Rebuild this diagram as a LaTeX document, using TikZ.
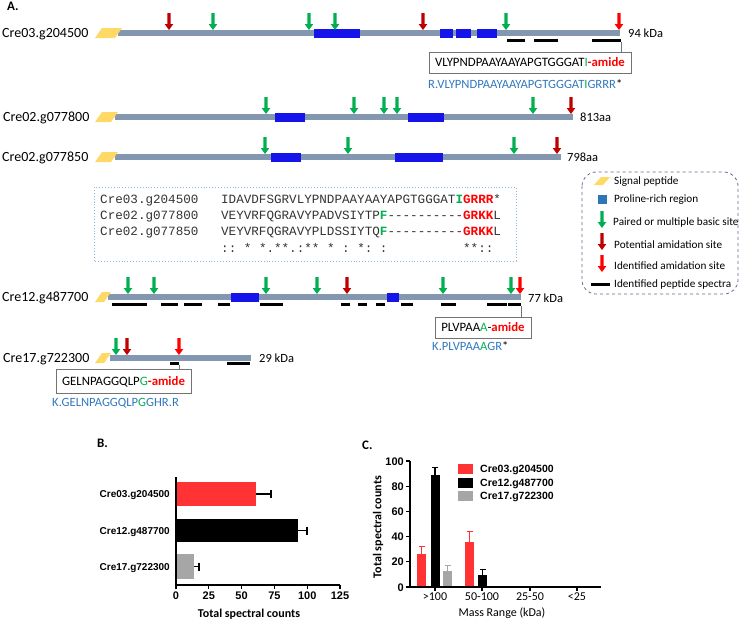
\documentclass[tikz,border=0pt]{standalone}
\usepackage{fontspec}
\setmainfont{Carlito}
\setmonofont{Liberation Mono}
\newfontfamily\arialf{Liberation Sans}
\definecolor{barG}{RGB}{132,151,176}
\definecolor{protB}{RGB}{20,20,235}
\definecolor{sigY}{RGB}{255,217,102}
\definecolor{aG}{RGB}{0,176,80}
\definecolor{aD}{RGB}{192,0,0}
\definecolor{aR}{RGB}{255,0,0}
\definecolor{pepB}{RGB}{50,120,190}
\definecolor{aliB}{RGB}{140,185,225}
\definecolor{legB}{RGB}{90,110,140}
\definecolor{legP}{RGB}{46,117,182}
\definecolor{cRed}{RGB}{255,51,51}
\definecolor{cGray}{RGB}{166,166,166}
\newcommand{\pa}[3]{\fill[#3] ({#1-1.6},{#2-17}) -- ({#1+1.6},{#2-17}) -- ({#1+1.6},{#2-6}) -- ({#1+4.3},{#2-6}) -- (#1,#2) -- ({#1-4.3},{#2-6}) -- ({#1-1.6},{#2-6}) -- cycle;}
\newcommand{\sigp}[4]{\fill[sigY] (#1,{#2+#4}) -- ({#1+#3-7},{#2+#4}) -- ({#1+#3},{#2-#4}) -- ({#1+7},{#2-#4}) -- cycle;}
\newcommand{\pbox}[4]{\fill[protB] (#1,{#3-#4}) rectangle (#2,{#3+#4});}
\newcommand{\spec}[3]{\draw[line width=3pt] (#1,#3) -- (#2,#3);}
\newcommand{\tendsh}{{-}{-}{-}{-}{-}{-}{-}{-}{-}{-}}
\begin{document}
\begin{tikzpicture}[x=1pt,y=-1pt,
  lab/.style={inner sep=0pt, anchor=west, text depth=0pt, font=\fontsize{14}{16}\selectfont, text height=9pt},
  kda/.style={lab, font=\fontsize{12.5}{14}\selectfont, text height=8pt},
  pepbox/.style={draw=black!55, line width=0.8pt, inner sep=0pt, text depth=0pt, text height=8.2pt, font=\fontsize{12.8}{14}\selectfont},
  ptxt/.style={lab, font=\fontsize{12.6}{14}\selectfont, text height=8.1pt, text=pepB},
  ali/.style={lab, font=\fontsize{12.6}{14}\selectfont\ttfamily, text height=8.3pt, text=black!80},
  leg/.style={lab, font=\fontsize{11.2}{13}\selectfont, text height=7.3pt},
  axl/.style={inner sep=0pt, text depth=0pt, font=\arialf\bfseries\fontsize{11}{13}\selectfont, text height=8pt},
  catl/.style={inner sep=0pt, anchor=east, text depth=0pt, font=\arialf\bfseries\fontsize{10}{12}\selectfont, text height=7.3pt},
  conn/.style={draw=black!55, line width=0.8pt},
  errb/.style={line width=1.3pt}]
\useasboundingbox (0,0) rectangle (740,622);
% panel label
\node[lab, font=\bfseries\fontsize{13}{15}\selectfont, text height=8.4pt] (pA) at (7,6) {A.};
% ---------- Row 1
\node[lab] (r1) at (2,33) {Cre03.g204500};
\draw[line width=6pt, barG] (118,33) -- (620,33);
\sigp{95}{33}{27}{5}
\pbox{314}{360}{33}{4.5}\pbox{440}{453}{33}{4.5}\pbox{456}{471}{33}{4.5}\pbox{477}{497}{33}{4.5}
\pa{169}{30}{aD}\pa{213}{30}{aG}\pa{309}{30}{aG}\pa{335}{30}{aG}\pa{423}{30}{aD}\pa{506}{30}{aG}\pa{619}{30}{aR}
\spec{507}{525}{40}\spec{534}{558}{40}\spec{592}{621}{40}
\node[kda] (k1) at (628,33) {94 kDa};
\node[pepbox, minimum width=202pt, minimum height=21pt] (b1) at (530,62.5) {VLYPNDPAAYAAYAPGTGGGAT\textcolor{aG}{I}\textcolor{aR}{\textbf{-amide}}};
\coordinate (c1) at (621,41.5);
\draw[conn] (c1) -- (c1 |- b1.north);
\node[ptxt] (p1) at (428,84) {R.VLYPNDPAAYAAYAPGTGGGAT\textcolor{aG}{I}GRRR\textcolor{black}{*}};
% ---------- Row 2
\node[lab] (r2) at (3,117) {Cre02.g077800};
\draw[line width=6pt, barG] (115,117) -- (573,117);
\sigp{95}{117}{23}{5}
\pbox{275}{305}{117}{4.5}\pbox{408}{444}{117}{4.5}
\pa{266}{114}{aG}\pa{354}{114}{aG}\pa{384}{114}{aG}\pa{397}{114}{aG}\pa{533}{114}{aG}\pa{571}{114}{aD}
\node[kda] (k2) at (580,117) {813aa};
% ---------- Row 3
\node[lab] (r3) at (2,157) {Cre02.g077850};
\draw[line width=6pt, barG] (115,157) -- (561,157);
\sigp{95}{157}{23}{5}
\pbox{271}{301}{157}{4.5}\pbox{395}{443}{157}{4.5}
\pa{265}{154}{aG}\pa{348}{154}{aG}\pa{514}{154}{aG}\pa{557}{154}{aD}
\node[kda] (k3) at (567,157) {798aa};
% ---------- Alignment
\draw[aliB, dotted, line width=0.9pt] (94,187) rectangle (516,261);
\node[ali] (al1) at (100,199) {Cre03.g204500~~~IDAVDFSGRVLYPNDPAAYAAYAPGTGGGAT\textcolor{aG}{\textbf{I}}\textcolor{aR}{\textbf{GRRR}}*};
\node[ali] (al2) at (100,215) {Cre02.g077800~~~VEYVRFQGRAVYPADVSIYTP\textcolor{aG}{\textbf{F}}\tendsh\textcolor{aR}{\textbf{GRKK}}L};
\node[ali] (al3) at (100,231) {Cre02.g077850~~~VEYVRFQGRAVYPLDSSIYTQ\textcolor{aG}{\textbf{F}}\tendsh\textcolor{aR}{\textbf{GRKK}}L};
\node[ali] (al4) at (221,248) {::~*~*.**.:**~*~:~*:~:~~~~~~~~~~**::};
% ---------- Legend
\draw[legB, dashed, rounded corners=14pt, line width=0.8pt] (582,172) rectangle (738,294);
\sigp{594}{181}{16}{4}
\node[leg] (l1) at (614,181) {Signal peptide};
\fill[legP] (597.5,194.5) rectangle (606.5,203.5);
\node[leg] (l2) at (614,199) {Proline-rich region};
\pa{602}{228}{aG}
\node[leg] (l3) at (613,222) {Paired or multiple basic site};
\pa{602}{250}{aD}
\node[leg] (l4) at (614,245) {Potential amidation site};
\pa{602}{272}{aR}
\node[leg] (l5) at (614,266) {Identified amidation site};
\spec{591}{610}{284}
\node[leg] (l6) at (614,284) {Identified peptide spectra};
% ---------- Row 4
\node[lab] (r4) at (2,297) {Cre12.g487700};
\draw[line width=5.5pt, barG] (108,297) -- (521,297);
\sigp{95}{297}{16}{5}
\pbox{231}{259}{297}{4.5}\pbox{387}{399}{297}{4.5}
\pa{128}{294}{aG}\pa{154}{294}{aG}\pa{266}{294}{aG}\pa{317}{294}{aG}\pa{347}{294}{aD}\pa{443}{294}{aG}\pa{511}{294}{aG}\pa{520}{294}{aR}
\spec{112}{147}{304}\spec{161}{178}{304}\spec{184}{202}{304}\spec{218}{230}{304}\spec{260}{283}{304}
\spec{341}{350}{304}\spec{358}{367}{304}\spec{376}{385}{304}\spec{401}{413}{304}\spec{441}{456}{304}\spec{487}{507}{304}\spec{508}{521}{304}
\node[kda] (k4) at (528,298) {77 kDa};
\node[pepbox, minimum width=96pt, minimum height=21pt] (b2) at (483,327.5) {PLVPAA\textcolor{aG}{A}-\textcolor{aR}{\textbf{amide}}};
\coordinate (c2) at (521,305.5);
\draw[conn] (c2) -- (c2 |- b2.north);
\node[ptxt] (p2) at (432,346) {K.PLVPAA\textcolor{aG}{A}GR\textcolor{black}{*}};
% ---------- Row 5
\node[lab] (r5) at (3,358) {Cre17.g722300};
\draw[line width=5.5pt, barG] (110,358) -- (251,358);
\sigp{95}{358}{16}{5}
\pa{116}{355}{aG}\pa{127}{355}{aD}\pa{179}{355}{aR}
\spec{170}{179}{363.5}\spec{227}{250}{363.5}
\node[kda] (k5) at (259,358) {29 kDa};
\node[pepbox, minimum width=135pt, minimum height=24pt] (b3) at (123.5,381) {GELNPAGGQLP\textcolor{aG}{G}\textcolor{aR}{\textbf{-amide}}};
\coordinate (c3) at (179,365);
\draw[conn] (c3) -- (c3 |- b3.north);
\node[ptxt] (p3) at (52,402) {K.GELNPAGGQLP\textcolor{aG}{G}GHR.R};
% ---------- Panel B
\node[lab, font=\bfseries\fontsize{13}{15}\selectfont, text height=8.4pt] (pB) at (97,443) {B.};
\fill[cRed] (176,482) rectangle (256,506);
\fill[black] (176,519) rectangle (298,542);
\fill[cGray] (176,554) rectangle (194,579);
\draw[errb] (256,494) -- (271,494) (271,490) -- (271,498);
\draw[errb] (298,530.5) -- (307,530.5) (307,526.5) -- (307,534.5);
\draw[errb] (194,566.5) -- (199,566.5) (199,562.5) -- (199,570.5);
\draw[line width=1.4pt] (176,477) -- (176,585) -- (340,585);
\foreach \v in {0,25,50,75,100,125}{
  \draw[line width=1.2pt] ({176+\v*1.312},585) -- ({176+\v*1.312},589);
  \node[axl, anchor=north] at ({176+\v*1.312},591) {\v};
}
\node[catl] (bc1) at (170,494) {Cre03.g204500};
\node[catl] (bc2) at (170,530.5) {Cre12.g487700};
\node[catl] (bc3) at (170,566.5) {Cre17.g722300};
\node[inner sep=0pt, font=\bfseries\fontsize{12}{14}\selectfont] (bt) at (249,614) {Total spectral counts};
% ---------- Panel C
\node[lab, font=\bfseries\fontsize{13}{15}\selectfont, text height=8.4pt] (pC) at (362,445) {C.};
\fill[cRed] (417,{587-26*1.26}) rectangle (426,587);
\fill[black] (430.5,{587-89*1.26}) rectangle (439.5,587);
\fill[cGray] (443,{587-13*1.26}) rectangle (452,587);
\fill[cRed] (465,{587-36*1.26}) rectangle (474,587);
\fill[black] (478,{587-9.5*1.26}) rectangle (487,587);
\draw[errb, cRed] (421.5,{587-26*1.26}) -- (421.5,{587-32*1.26}) (418.5,{587-32*1.26}) -- (424.5,{587-32*1.26});
\draw[errb] (435,{587-89*1.26}) -- (435,{587-95*1.26}) (432,{587-95*1.26}) -- (438,{587-95*1.26});
\draw[errb, cGray] (447.5,{587-13*1.26}) -- (447.5,{587-17*1.26}) (444.5,{587-17*1.26}) -- (450.5,{587-17*1.26});
\draw[errb, cRed] (469.5,{587-36*1.26}) -- (469.5,{587-44*1.26}) (466.5,{587-44*1.26}) -- (472.5,{587-44*1.26});
\draw[errb] (482.5,{587-9.5*1.26}) -- (482.5,{587-14*1.26}) (479.5,{587-14*1.26}) -- (485.5,{587-14*1.26});
\draw[line width=1.4pt] (410,461) -- (410,587) -- (601,587);
\foreach \v in {0,20,40,60,80,100}{
  \draw[line width=1.2pt] (406,{587-\v*1.26}) -- (410,{587-\v*1.26});
  \node[axl, anchor=east] at (404,{587-\v*1.26}) {\v};
}
\foreach \xx/\t in {435/{>100},482/{50-100},530/{25-50},577/{<25}}{
  \draw[line width=1.2pt] (\xx,587) -- (\xx,591);
  \node[inner sep=0pt, anchor=north, font=\fontsize{12}{14}\selectfont] at (\xx,593) {\t};
}
\node[inner sep=0pt, font=\fontsize{12}{14}\selectfont] (cx) at (502,613) {Mass Range (kDa)};
\node[inner sep=0pt, rotate=90, font=\bfseries\fontsize{12}{14}\selectfont] (cy) at (378,527) {Total spectral counts};
\fill[cRed] (458,464) rectangle (473,474);
\fill[black] (458,478) rectangle (473,488);
\fill[cGray] (458,491) rectangle (473,501);
\node[catl, anchor=west, font=\arialf\bfseries\fontsize{10.5}{12}\selectfont] (cl1) at (480,469) {Cre03.g204500};
\node[catl, anchor=west, font=\arialf\bfseries\fontsize{10.5}{12}\selectfont] (cl2) at (480,483) {Cre12.g487700};
\node[catl, anchor=west, font=\arialf\bfseries\fontsize{10.5}{12}\selectfont] (cl3) at (480,496) {Cre17.g722300};
\end{tikzpicture}
\end{document}
